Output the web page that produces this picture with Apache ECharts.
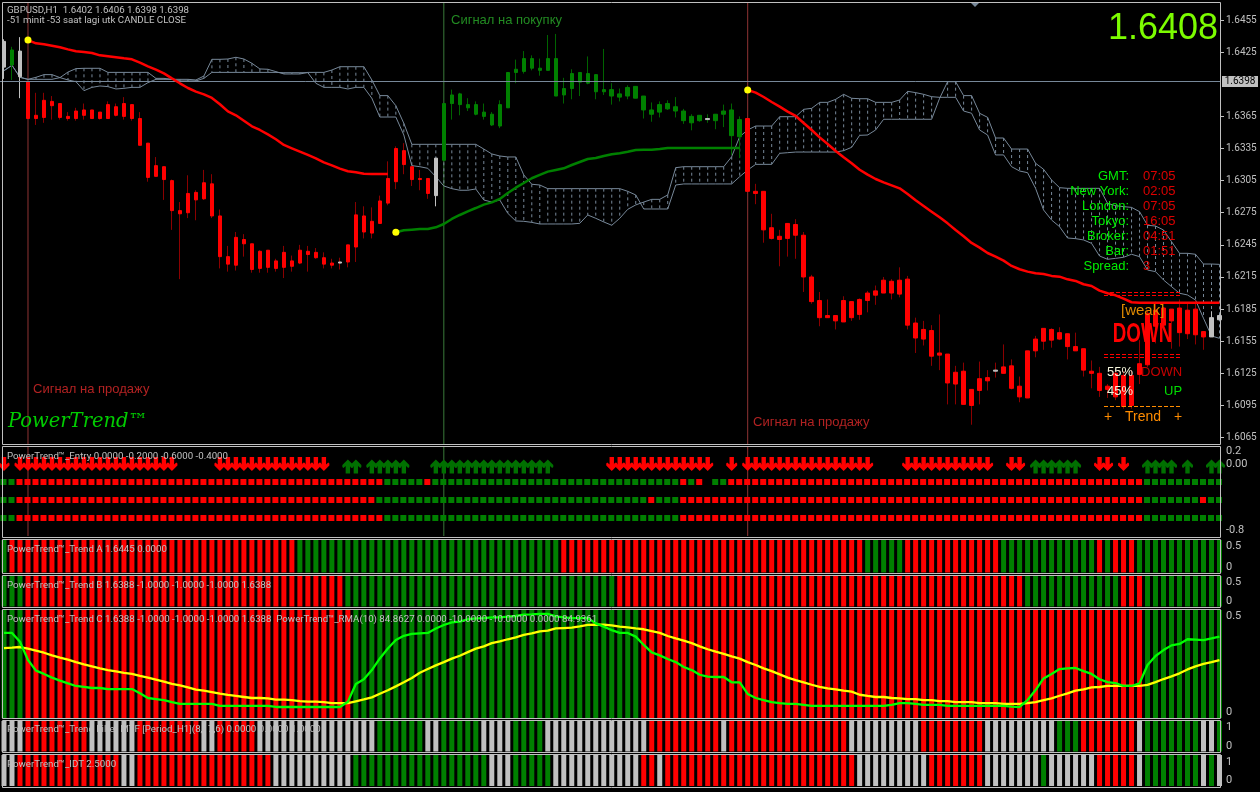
<!DOCTYPE html>
<html><head><meta charset="utf-8">
<style>html,body{margin:0;padding:0;background:#000}#c{width:1260px;height:792px}</style>
<script src="https://cdn.jsdelivr.net/npm/echarts@6/dist/echarts.min.js"></script>
</head><body><div id="c"></div>
<script>
// ---------- price panel values ----------
const candleBodyTop=[1.6435,1.6427,1.6426,1.6397,1.6366,1.6380,1.6379,1.6377,1.6365,1.6370,1.6371,1.6371,1.6369,1.6376,1.6374,1.6377,1.6376,1.6363,1.6340,1.6319,1.6318,1.6305,1.6277,1.6293,1.6294,1.6303,1.6302,1.6272,1.6234,1.6252,1.6250,1.6246,1.6239,1.6240,1.6230,1.6238,1.6230,1.6240,1.6239,1.6238,1.6233,1.6228,1.6229,1.6245,1.6273,1.6272,1.6267,1.6286,1.6307,1.6335,1.6333,1.6318,1.6307,1.6307,1.6326,1.6377,1.6385,1.6386,1.6376,1.6376,1.6369,1.6367,1.6376,1.6406,1.6409,1.6419,1.6419,1.6410,1.6419,1.6419,1.6391,1.6405,1.6406,1.6405,1.6404,1.6390,1.6390,1.6386,1.6392,1.6393,1.6384,1.6371,1.6376,1.6377,1.6374,1.6370,1.6365,1.6366,1.6363,1.6367,1.6370,1.6371,1.6362,1.6363,1.6295,1.6295,1.6261,1.6253,1.6265,1.6264,1.6254,1.6215,1.6193,1.6179,1.6179,1.6193,1.6192,1.6194,1.6200,1.6202,1.6212,1.6211,1.6212,1.6213,1.6172,1.6166,1.6165,1.6144,1.6143,1.6126,1.6127,1.6110,1.6120,1.6121,1.6128,1.6131,1.6132,1.6113,1.6146,1.6157,1.6167,1.6166,1.6163,1.6162,1.6150,1.6148,1.6127,1.6125,1.6113,1.6125,1.6123,1.6123,1.6134,1.6181,1.6184,1.6186,1.6185,1.6186,1.6184,1.6185,1.6164,1.6177,1.6179];
const candleBodyBottom=[1.6411,1.6413,1.6402,1.6363,1.6363,1.6364,1.6375,1.6364,1.6363,1.6363,1.6366,1.6363,1.6363,1.6363,1.6366,1.6365,1.6363,1.6338,1.6308,1.6309,1.6306,1.6277,1.6274,1.6275,1.6287,1.6288,1.6272,1.6234,1.6227,1.6226,1.6246,1.6222,1.6223,1.6224,1.6223,1.6224,1.6225,1.6228,1.6236,1.6233,1.6227,1.6226,1.6228,1.6229,1.6243,1.6257,1.6256,1.6265,1.6284,1.6304,1.6320,1.6306,1.6306,1.6293,1.6291,1.6324,1.6377,1.6376,1.6373,1.6367,1.6365,1.6357,1.6356,1.6373,1.6406,1.6407,1.6410,1.6408,1.6408,1.6384,1.6385,1.6391,1.6397,1.6396,1.6388,1.6388,1.6384,1.6383,1.6384,1.6382,1.6371,1.6367,1.6369,1.6372,1.6370,1.6361,1.6359,1.6361,1.6362,1.6361,1.6367,1.6347,1.6346,1.6295,1.6293,1.6259,1.6251,1.6250,1.6251,1.6254,1.6215,1.6192,1.6177,1.6177,1.6174,1.6173,1.6177,1.6180,1.6193,1.6198,1.6200,1.6200,1.6199,1.6170,1.6158,1.6157,1.6141,1.6142,1.6116,1.6115,1.6096,1.6095,1.6109,1.6118,1.6127,1.6125,1.6111,1.6103,1.6102,1.6146,1.6155,1.6156,1.6157,1.6150,1.6146,1.6128,1.6125,1.6109,1.6110,1.6103,1.6094,1.6095,1.6124,1.6133,1.6169,1.6170,1.6174,1.6163,1.6162,1.6161,1.6159,1.6159,1.6175];
const candleHigh=[1.6437,1.6430,1.6439,1.6397,1.6387,1.6387,1.6384,1.6377,1.6369,1.6373,1.6377,1.6371,1.6369,1.6379,1.6377,1.6383,1.6376,1.6369,1.6340,1.6327,1.6318,1.6306,1.6285,1.6310,1.6296,1.6315,1.6311,1.6278,1.6244,1.6257,1.6255,1.6246,1.6240,1.6240,1.6232,1.6244,1.6235,1.6245,1.6244,1.6242,1.6238,1.6232,1.6233,1.6245,1.6285,1.6281,1.6280,1.6291,1.6323,1.6337,1.6340,1.6318,1.6315,1.6307,1.6326,1.6377,1.6390,1.6387,1.6382,1.6379,1.6377,1.6369,1.6380,1.6406,1.6418,1.6426,1.6422,1.6419,1.6441,1.6442,1.6401,1.6409,1.6406,1.6421,1.6404,1.6428,1.6396,1.6391,1.6394,1.6393,1.6384,1.6378,1.6379,1.6380,1.6383,1.6372,1.6367,1.6366,1.6367,1.6367,1.6376,1.6377,1.6365,1.6363,1.6302,1.6295,1.6274,1.6259,1.6265,1.6269,1.6257,1.6217,1.6201,1.6194,1.6179,1.6197,1.6192,1.6195,1.6202,1.6207,1.6215,1.6213,1.6224,1.6216,1.6177,1.6174,1.6170,1.6180,1.6143,1.6132,1.6135,1.6110,1.6136,1.6128,1.6135,1.6152,1.6138,1.6122,1.6146,1.6160,1.6167,1.6167,1.6168,1.6162,1.6163,1.6148,1.6137,1.6131,1.6115,1.6128,1.6127,1.6128,1.6156,1.6184,1.6192,1.6187,1.6185,1.6194,1.6190,1.6193,1.6164,1.6183,1.6180];
const candleLow=[1.6400,1.6399,1.6382,1.6363,1.6357,1.6359,1.6362,1.6362,1.6361,1.6361,1.6362,1.6363,1.6362,1.6363,1.6365,1.6362,1.6361,1.6338,1.6304,1.6309,1.6287,1.6259,1.6213,1.6270,1.6268,1.6287,1.6270,1.6223,1.6220,1.6221,1.6234,1.6219,1.6219,1.6219,1.6220,1.6214,1.6220,1.6227,1.6220,1.6232,1.6223,1.6223,1.6222,1.6224,1.6229,1.6251,1.6251,1.6265,1.6282,1.6297,1.6311,1.6300,1.6296,1.6288,1.6281,1.6324,1.6362,1.6366,1.6370,1.6366,1.6362,1.6356,1.6354,1.6373,1.6396,1.6405,1.6408,1.6403,1.6408,1.6384,1.6377,1.6381,1.6384,1.6395,1.6381,1.6385,1.6376,1.6379,1.6381,1.6382,1.6363,1.6360,1.6364,1.6371,1.6364,1.6358,1.6352,1.6360,1.6359,1.6353,1.6355,1.6329,1.6326,1.6295,1.6283,1.6247,1.6250,1.6225,1.6234,1.6232,1.6201,1.6190,1.6169,1.6177,1.6166,1.6173,1.6174,1.6175,1.6182,1.6189,1.6200,1.6194,1.6196,1.6166,1.6144,1.6151,1.6132,1.6128,1.6096,1.6096,1.6096,1.6077,1.6096,1.6109,1.6121,1.6125,1.6110,1.6098,1.6102,1.6140,1.6147,1.6149,1.6156,1.6138,1.6146,1.6122,1.6111,1.6103,1.6102,1.6100,1.6092,1.6092,1.6115,1.6131,1.6153,1.6169,1.6148,1.6150,1.6157,1.6152,1.6147,1.6159,1.6175];
const candleColourRuns=[['S',1],['G',1],['S',1],['R',39],['S',1],['R',11],['S',1],['G',33],['S',1],['G',4],['R',31],['S',1],['R',26],['S',2]];
const wickColourRuns=[['S',1],['G',1],['S',1],['R',51],['S',1],['G',38],['R',58],['S',2]];
const cloudSpanA=[1.64077,1.64127,1.64015,1.63996,1.63996,1.63996,1.63996,1.64012,1.63990,1.63974,1.63890,1.63921,1.63934,1.63928,1.63906,1.63912,1.63921,1.63921,1.63965,1.63996,1.63996,1.63996,1.63981,1.63981,1.63981,1.64005,1.64061,1.64061,1.64061,1.64061,1.64061,1.64061,1.64061,1.64061,1.64061,1.64058,1.64058,1.64058,1.64058,1.63959,1.63921,1.63921,1.63921,1.63906,1.63921,1.63921,1.63819,1.63644,1.63644,1.63644,1.63476,1.63190,1.63180,1.63165,1.63087,1.63000,1.62975,1.62960,1.62960,1.62972,1.62869,1.62850,1.62869,1.62745,1.62673,1.62670,1.62660,1.62645,1.62645,1.62645,1.62645,1.62645,1.62651,1.62729,1.62698,1.62664,1.62633,1.62698,1.62782,1.62823,1.62850,1.62875,1.62875,1.62916,1.63171,1.63180,1.63180,1.63180,1.63180,1.63180,1.63180,1.63274,1.63461,1.63523,1.63560,1.63560,1.63560,1.63647,1.63647,1.63647,1.63716,1.63725,1.63781,1.63781,1.63809,1.63856,1.63819,1.63815,1.63815,1.63781,1.63781,1.63781,1.63803,1.63884,1.63872,1.63856,1.63834,1.63828,1.63828,1.63828,1.63700,1.63679,1.63523,1.63476,1.63290,1.63290,1.63180,1.63140,1.63124,1.62978,1.62776,1.62682,1.62620,1.62514,1.62508,1.62496,1.62464,1.62346,1.62315,1.62324,1.62334,1.62362,1.62340,1.62215,1.62200,1.62122,1.62060,1.61998,1.61982,1.61935,1.61764,1.61599,1.61577];
const cloudSpanB=[1.64077,1.64127,1.64015,1.63996,1.64015,1.64040,1.64040,1.64012,1.64064,1.64096,1.64099,1.64099,1.64099,1.64061,1.64061,1.64061,1.64061,1.64061,1.64061,1.64005,1.64005,1.63996,1.63996,1.63996,1.63990,1.64027,1.64183,1.64183,1.64186,1.64202,1.64186,1.64146,1.64093,1.64090,1.64068,1.64046,1.64046,1.64046,1.64061,1.64061,1.64061,1.64083,1.64114,1.64114,1.64114,1.64114,1.63990,1.63844,1.63844,1.63750,1.63585,1.63389,1.63389,1.63389,1.63389,1.63389,1.63389,1.63389,1.63389,1.63389,1.63345,1.63299,1.63280,1.63271,1.63271,1.63103,1.63016,1.63009,1.62975,1.62975,1.62975,1.62975,1.62975,1.62975,1.62975,1.62975,1.62975,1.62975,1.62950,1.62916,1.62785,1.62785,1.62785,1.62785,1.63009,1.63019,1.63019,1.63019,1.63019,1.63019,1.63019,1.63019,1.63087,1.63149,1.63202,1.63202,1.63202,1.63305,1.63311,1.63317,1.63317,1.63317,1.63317,1.63317,1.63317,1.63330,1.63361,1.63473,1.63476,1.63523,1.63623,1.63623,1.63623,1.63623,1.63623,1.63623,1.63623,1.63819,1.63974,1.63974,1.63844,1.63844,1.63679,1.63641,1.63448,1.63448,1.63345,1.63345,1.63345,1.63212,1.63156,1.63056,1.62984,1.62978,1.62978,1.62978,1.62978,1.62978,1.62838,1.62816,1.62807,1.62800,1.62760,1.62633,1.62626,1.62589,1.62480,1.62371,1.62371,1.62362,1.62271,1.62271,1.62268];
const maFallingFirst=[1.64363,1.64332,1.64323,1.64310,1.64295,1.64276,1.64258,1.64251,1.64242,1.64220,1.64211,1.64202,1.64192,1.64183,1.64152,1.64117,1.64086,1.64052,1.64005,1.63959,1.63915,1.63881,1.63856,1.63822,1.63763,1.63697,1.63660,1.63610,1.63557,1.63523,1.63482,1.63436,1.63383,1.63352,1.63321,1.63290,1.63258,1.63221,1.63193,1.63162,1.63137,1.63128,1.63115,1.63112,1.63112,1.63112];
const maRising=[1.62567,1.62586,1.62592,1.62598,1.62598,1.62614,1.62645,1.62692,1.62729,1.62763,1.62794,1.62826,1.62847,1.62879,1.62935,1.62984,1.63028,1.63072,1.63103,1.63134,1.63150,1.63165,1.63196,1.63224,1.63252,1.63261,1.63280,1.63296,1.63305,1.63320,1.63336,1.63339,1.63339,1.63345,1.63355,1.63355,1.63355,1.63355,1.63355,1.63355,1.63355,1.63355,1.63355,1.63355];
const maFallingSecond=[1.63896,1.63872,1.63831,1.63784,1.63741,1.63694,1.63654,1.63588,1.63523,1.63454,1.63392,1.63327,1.63268,1.63212,1.63152,1.63106,1.63065,1.63034,1.63006,1.62978,1.62925,1.62866,1.62813,1.62760,1.62707,1.62651,1.62589,1.62530,1.62468,1.62424,1.62374,1.62340,1.62303,1.62253,1.62222,1.62200,1.62184,1.62178,1.62160,1.62153,1.62128,1.62113,1.62082,1.62066,1.62022,1.61998,1.61979,1.61948,1.61914,1.61910,1.61910,1.61910,1.61910,1.61910,1.61910,1.61910,1.61910,1.61910,1.61910,1.61910];
const maFallingFirstStart=3, maRisingStart=49, maFallingSecondStart=93;
const priceTicks=[1.6065,1.6095,1.6125,1.6155,1.6185,1.6215,1.6245,1.6275,1.6305,1.6335,1.6365,1.6425,1.6455];
const lastPrice=1.6398;
const signalBars=[{bar:3,kind:'sell'},{bar:55,kind:'buy'},{bar:93,kind:'sell'}];
// ---------- Entry panel ----------
const entryArrowRuns=[['D',1],['N',1],['D',20],['N',5],['D',14],['N',2],['U',2],['N',1],['U',5],['N',3],['U',15],['N',7],['D',13],['N',2],['D',1],['N',1],['D',16],['N',4],['D',11],['N',2],['D',2],['N',1],['U',6],['N',2],['D',2],['N',1],['D',1],['N',2],['U',4],['N',1],['U',1],['N',2],['U',2]];
const entryRowA=[['G',2],['R',46],['G',5],['R',1],['G',31],['R',1],['G',1],['R',1],['N',1],['G',2],['R',52],['G',10]];
const entryRowB=[['G',2],['R',45],['G',34],['R',1],['G',3],['R',58],['G',7],['R',1],['G',2]];
const entryRowC=[['G',2],['R',46],['G',37],['R',58],['G',10]];
// ---------- histogram panels ----------
const trendARuns=[['G',1],['R',36],['G',33],['R',38],['G',5],['R',12],['G',12],['R',1],['G',1],['R',3],['G',11]];
const trendBRuns=[['G',3],['R',40],['G',34],['R',51],['G',12],['R',3],['G',10]];
const trendCRuns=[['G',3],['R',41],['G',36],['R',63],['G',10]];
const filterRuns=[['S',3],['R',8],['S',6],['R',8],['S',2],['R',5],['S',15],['G',6],['S',2],['G',5],['S',4],['G',4],['S',13],['R',9],['S',1],['R',15],['S',9],['R',8],['S',9],['G',3],['R',7],['S',1],['G',7],['S',2],['G',1]];
const idtRuns=[['S',2],['R',13],['S',2],['R',17],['S',10],['G',17],['S',3],['G',5],['S',11],['R',2],['S',1],['R',24],['S',9],['R',7],['S',7],['G',1],['S',6],['R',5],['S',1],['G',7],['S',1],['G',1],['S',1]];
const rmaFast=[.417,.417,.374,.284,.232,.216,.198,.183,.170,.157,.153,.147,.147,.142,.142,.142,.142,.121,.098,.093,.088,.078,.069,.069,.069,.069,.069,.059,.059,.059,.059,.059,.059,.059,.054,.054,.054,.054,.054,.054,.054,.054,.054,.080,.167,.190,.235,.292,.341,.382,.403,.412,.415,.417,.439,.456,.469,.472,.484,.488,.490,.493,.493,.497,.500,.507,.508,.510,.510,.498,.493,.490,.490,.490,.464,.448,.431,.417,.417,.399,.358,.322,.307,.289,.274,.250,.235,.212,.203,.201,.201,.175,.175,.118,.098,.088,.078,.073,.069,.069,.064,.059,.059,.059,.059,.059,.059,.059,.059,.059,.059,.064,.073,.073,.069,.064,.064,.064,.059,.059,.059,.059,.059,.059,.059,.059,.056,.054,.088,.137,.194,.216,.240,.243,.245,.230,.216,.190,.176,.171,.157,.157,.170,.260,.304,.333,.356,.363,.386,.384,.382,.390,.399];
const rmaSlow=[.343,.345,.348,.340,.330,.320,.307,.296,.286,.274,.263,.253,.243,.235,.229,.221,.216,.206,.198,.188,.178,.167,.160,.150,.139,.134,.127,.119,.113,.108,.103,.098,.098,.096,.090,.090,.088,.083,.080,.080,.078,.073,.073,.073,.082,.091,.101,.119,.136,.155,.175,.196,.222,.240,.258,.274,.291,.305,.323,.340,.351,.367,.376,.386,.395,.407,.415,.425,.428,.439,.441,.443,.449,.456,.457,.457,.454,.448,.444,.439,.435,.426,.417,.402,.390,.379,.367,.351,.337,.325,.314,.302,.291,.274,.260,.243,.230,.214,.198,.186,.175,.163,.153,.145,.140,.134,.129,.114,.108,.103,.103,.098,.096,.093,.093,.088,.088,.083,.083,.078,.078,.078,.073,.073,.073,.069,.069,.069,.073,.078,.088,.096,.109,.121,.134,.140,.150,.152,.157,.157,.157,.157,.157,.162,.176,.191,.204,.219,.238,.253,.265,.274,.284];
// ---------- helpers ----------
const BAR_COUNT=candleHigh.length;
const barIndex=Array.from({length:BAR_COUNT},(_,i)=>String(i));
const expand=r=>r.flatMap(([c,n])=>Array(n).fill(c));
const RED='#ff0000',GREEN='#008000',SILVER='#c0c0c0',SLATE='#778899';
const palette={R:RED,G:GREEN,S:SILVER};
const wickPalette={R:'#8b0000',G:'#006400',S:SILVER};
const UI='"Liberation Sans",Arial,sans-serif', SMALL='Roboto,"Liberation Sans",sans-serif';
const G=[ // grid rectangles: [top,height]
 [3,441],[446,90],[540,32.5],[576,30.5],[610,108],[721,30.5],[755,31]];
const yRange=[[1.60590,1.64709],[-0.8,0.2],[0,0.613],[0,0.622],[0,0.5294],[0,1.245],[0,1.29]];
const grid=G.map(([t,h])=>({left:-0.5,width:1224,top:t,height:h,show:false}));
const xAxis=G.map((_,i)=>({gridIndex:i,type:'category',data:barIndex,show:false,boundaryGap:true}));
const yTicks=[priceTicks,[-0.8,0,0.2],[0,0.5],[0,0.5],[0,0.5],[0,1],[0,1]];
const yAxis=G.map((_,i)=>({gridIndex:i,type:'value',position:'right',offset:-2.5,min:yRange[i][0],max:yRange[i][1],
  scale:true,splitLine:{show:false},axisLine:{show:false},
  axisTick:{show:i===0,length:3,inside:false,customValues:yTicks[i],lineStyle:{color:SILVER}},
  axisLabel:{color:SILVER,fontFamily:SMALL,fontSize:i===0?10:11,margin:5,customValues:yTicks[i],
    verticalAlignMinLabel:i===0?'middle':'bottom',verticalAlignMaxLabel:i===1?'top':'middle',
    formatter:v=>i===0?v.toFixed(4):(i===1?(v===0?'0.00':String(+v.toFixed(1))):String(v))}}));
const series=[];
const add=s=>series.push(s);
const signalColour={sell:'#8f3434',buy:'#3a7a3a'};
G.forEach((_,g)=>add({type:'custom',name:'signals'+g,xAxisIndex:g,yAxisIndex:g,z:1,silent:true,clip:false,
  data:signalBars.map(s=>[s.bar,yRange[g][0],s.kind==='buy'?1:0]),encode:{x:0,y:1},
  renderItem:(p,api)=>{const x=api.coord([api.value(0),api.value(1)])[0],c=p.coordSys;
    return{type:'line',shape:{x1:x,y1:c.y,x2:x,y2:c.y+c.height},style:{stroke:api.value(2)?signalColour.buy:signalColour.sell,lineWidth:1,fill:null}};}}));
// cloud
add({type:'custom',name:'cloudHatch',xAxisIndex:0,yAxisIndex:0,z:2,silent:true,clip:true,
  data:cloudSpanA.map((a,i)=>[i,Math.max(a,cloudSpanB[i]),Math.min(a,cloudSpanB[i])]),
  renderItem:(p,api)=>{const a=api.coord([api.value(0),api.value(1)]),b=api.coord([api.value(0),api.value(2)]);
    return{type:'line',shape:{x1:a[0],y1:a[1],x2:b[0],y2:b[1]},style:{stroke:SLATE,lineWidth:1,lineDash:[3,3],fill:null}};},
  encode:{x:0,y:[1,2]}});
[['spanA',cloudSpanA],['spanB',cloudSpanB]].forEach(([n,d])=>add({type:'line',name:n,data:d,symbol:'none',z:2,silent:true,xAxisIndex:0,yAxisIndex:0,
  lineStyle:{color:SLATE,width:1}}));
// candles: wick layer and body layer
const cc=expand(candleColourRuns), wc=expand(wickColourRuns);
add({type:'candlestick',name:'wicks',xAxisIndex:0,yAxisIndex:0,barWidth:1,z:3,silent:true,
  data:candleHigh.map((h,i)=>({value:[candleBodyTop[i],candleBodyBottom[i],candleLow[i],h],
   itemStyle:{color:wickPalette[wc[i]],color0:wickPalette[wc[i]],borderColor:wickPalette[wc[i]],borderColor0:wickPalette[wc[i]],borderColorDoji:wickPalette[wc[i]],borderWidth:1}}))});
add({type:'candlestick',name:'bodies',xAxisIndex:0,yAxisIndex:0,barWidth:4,z:4,silent:true,
  data:candleHigh.map((h,i)=>({value:[candleBodyTop[i],candleBodyBottom[i],candleBodyBottom[i],candleBodyTop[i]],
   itemStyle:{color:palette[cc[i]],color0:palette[cc[i]],borderColor:palette[cc[i]],borderColor0:palette[cc[i]],borderColorDoji:palette[cc[i]],borderWidth:1}}))});
// moving averages
const ma=(arr,start,col,n)=>add({type:'line',name:n,xAxisIndex:0,yAxisIndex:0,z:5,symbol:'none',silent:true,
  data:arr.map((v,i)=>[start+i,v]),lineStyle:{color:col,width:2.5}});
ma(maFallingFirst,maFallingFirstStart,RED,'maA');ma(maRising,maRisingStart,GREEN,'maB');ma(maFallingSecond,maFallingSecondStart,RED,'maC');
add({type:'scatter',name:'maStart',xAxisIndex:0,yAxisIndex:0,z:6,silent:true,symbolSize:7,itemStyle:{color:'#ffff00',opacity:1},
  data:[[maFallingFirstStart,maFallingFirst[0]],[maRisingStart,maRising[0]],[maFallingSecondStart,maFallingSecond[0]]]});
// last-price line and its tag, placed through the price axis
add({type:'custom',name:'priceLine',xAxisIndex:0,yAxisIndex:0,z:5,silent:true,clip:false,
  data:[[0,lastPrice]],encode:{x:0,y:1},
  renderItem:(p,api)=>{const y=Math.floor(api.coord([0,api.value(1)])[1])+0.5,c=p.coordSys,r=c.x+c.width-2.5;
    return{type:'group',children:[
      {type:'line',shape:{x1:c.x,y1:y,x2:r,y2:y},style:{stroke:SLATE,lineWidth:1,fill:null}},
      {type:'rect',shape:{x:r+1,y:y-5.5,width:36,height:11},style:{fill:SILVER}},
      {type:'text',style:{text:lastPrice.toFixed(4),x:r+19,y:y,textAlign:'center',textVerticalAlign:'middle',fill:'#000',font:'10px '+SMALL}}]};}});
// entry panel
const arrows=expand(entryArrowRuns);
const down='path://M3,0 L7,0 L7,7 L9,5 L10,6 L10,8 L5,13 L0,8 L0,6 L1,5 L3,7 Z';
const up='path://M3,13 L7,13 L7,6 L9,8 L10,7 L10,5 L5,0 L0,5 L0,7 L1,8 L3,6 Z';
add({type:'scatter',name:'entryDown',xAxisIndex:1,yAxisIndex:1,z:3,silent:true,symbol:down,symbolSize:[11,14],itemStyle:{color:RED,opacity:1},
  data:arrows.map((c,i)=>c==='D'?[i,0]:null).filter(Boolean)});
add({type:'scatter',name:'entryUp',xAxisIndex:1,yAxisIndex:1,z:3,silent:true,symbol:up,symbolSize:[11,14],symbolOffset:[0,2.5],itemStyle:{color:'#007000',opacity:1},
  data:arrows.map((c,i)=>c==='U'?[i,0]:null).filter(Boolean)});
[[entryRowA,-0.2],[entryRowB,-0.4],[entryRowC,-0.6]].forEach(([r,v],k)=>add({type:'scatter',name:'entryRow'+k,xAxisIndex:1,yAxisIndex:1,z:3,silent:true,symbol:'rect',symbolSize:6,symbolOffset:[-0.5,0],
  data:expand(r).map((c,i)=>c==='N'?null:{value:[i,v],itemStyle:{color:palette[c],opacity:1}}).filter(Boolean)}));
// histogram panels
[[trendARuns,2],[trendBRuns,3],[trendCRuns,4],[filterRuns,5],[idtRuns,6]].forEach(([r,g])=>add({type:'bar',name:'hist'+g,xAxisIndex:g,yAxisIndex:g,barWidth:5,z:2,silent:true,clip:true,
  data:expand(r).map(c=>({value:2,itemStyle:{color:palette[c]}}))}));
[[rmaSlow,'#ffff00','rmaSlow'],[rmaFast,'#00ff00','rmaFast']].forEach(([d,col,n])=>add({type:'line',name:n,xAxisIndex:4,yAxisIndex:4,z:4,symbol:'none',silent:true,data:d,lineStyle:{color:col,width:2.3}}));
// text & frames
const txt=(text,x,y,fill,font,align)=>({type:'text',z:100,silent:true,style:{text,x,y,fill,font,textAlign:align||'left',textVerticalAlign:'middle'}});
const small='9.7px '+SMALL, clock='13px '+UI, big='13px '+UI;
const rows=[['GMT:','07:05',176],['New York:','02:05',191],['London:','07:05',206.7],['Tokyo:','16:05',221.7],['Broker:','04:51',236.7],['Bar:','01:51',251.7],['Spread:','3',266.7]];
const frames=[[2.5,444.5],[446.5,537.5],[539.5,573.5],[575.5,607.5],[609.5,718.5],[720.5,752.5],[754.5,787.5]];
const dash=(x1,x2,y,col)=>({type:'line',z:100,silent:true,shape:{x1,y1:y,x2,y2:y},style:{stroke:col,lineWidth:1,lineDash:[4,2]}});
const graphic=[
 ...frames.map(([a,b])=>({type:'rect',z:99,silent:true,shape:{x:2.5,y:a,width:1218,height:b-a},style:{fill:null,stroke:SILVER,lineWidth:1}})),
 {type:'polygon',z:100,silent:true,shape:{points:[[971,3],[979,3],[975,7]]},style:{fill:SLATE}},
 txt('GBPUSD,H1  1.6402 1.6406 1.6398 1.6398',7,10.5,SILVER,small),
 txt('-51 minit -53 saat lagi utk CANDLE CLOSE',7,20.5,SILVER,small),
 txt('Сигнал на покупку',451,20.5,'#228b22',big),
 txt('Сигнал на продажу',33,389.5,'#b22222',big),
 txt('Сигнал на продажу',753,422.5,'#b22222',big),
 txt('PowerTrend™',8,422,'#00cc00','italic 19.5px "DejaVu Serif"'),
 txt('1.6408',1218,29.5,'#7cfc00','36px '+UI,'right'),
 ...rows.map(r=>txt(r[0],1129,r[2],'#00ee00',clock,'right')),
 ...rows.map(r=>txt(r[1],1143,r[2],'#dd0000',clock)),
 dash(1104,1182,292.5,RED),dash(1104,1182,295.5,RED),dash(1104,1182,354.5,RED),dash(1104,1182,357.5,RED),dash(1104,1182,406.5,'#ff8c00'),
 txt('[weak]',1121,311,'#e08a00','15px '+UI),
 {type:'text',z:100,silent:true,x:1142.5,y:334,scaleX:0.67,style:{text:'DOWN',x:0,y:0,fill:'#ff0000',font:'bold 28px '+UI,textAlign:'center',textVerticalAlign:'middle'}},
 txt('55%',1107,372,'#f5f5dc',clock),txt('DOWN',1141,372,'#c80000',clock),
 txt('45%',1107,391,'#f5f5dc',clock),txt('UP',1164,391,'#00dd00',clock),
 txt('+',1104,417.5,'#ff8c00','14px '+UI),txt('Trend',1125,417.5,'#ff8c00','14px '+UI),txt('+',1174,417.5,'#ff8c00','14px '+UI),
 txt('PowerTrend™_Entry 0.0000 -0.2000 -0.6000 -0.4000',7,456.7,SILVER,small),
 txt('PowerTrend™_Trend A 1.6445 0.0000',7,550,SILVER,small),
 txt('PowerTrend™_Trend B 1.6388 -1.0000 -1.0000 -1.0000 1.6388',7,585.7,SILVER,small),
 txt('PowerTrend™_Trend C 1.6388 -1.0000 -1.0000 -1.0000 1.6388  PowerTrend™_RMA(10) 84.8627 0.0000 -10.0000 -10.0000 0.0000 84.9361',7,619.7,SILVER,small),
 txt('PowerTrend™_Trend Filter MTF [Period_H1](8,17,6) 0.0000 0.0000 1.0000',7,730,SILVER,small),
 txt('PowerTrend™_IDT 2.5000',7,764.7,SILVER,small)
];
const chart=echarts.init(document.getElementById('c'));
chart.setOption({backgroundColor:'#000',animation:false,grid,xAxis,yAxis,series,graphic,tooltip:{show:false}});
</script></body></html>
